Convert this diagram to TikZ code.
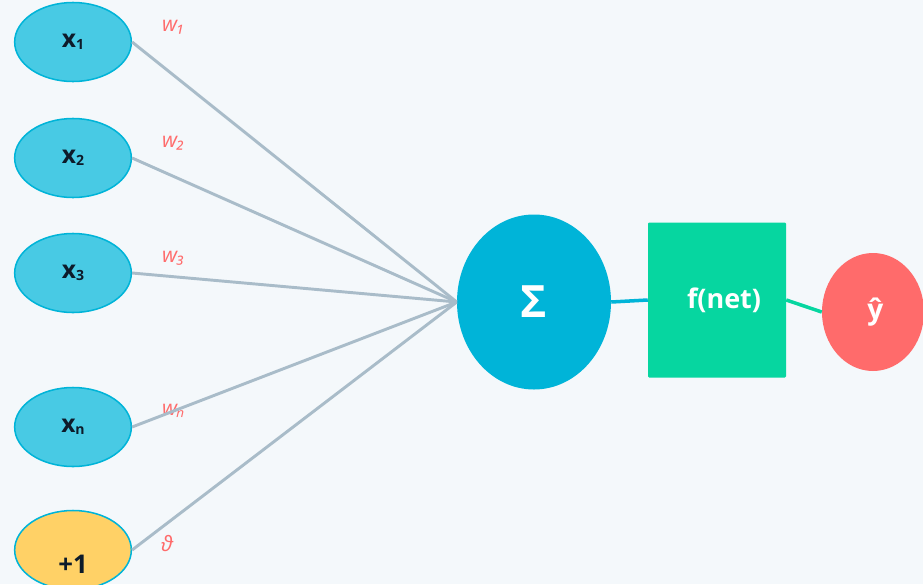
\documentclass[tikz,border=0pt]{standalone}
\usepackage{fontspec}
\setmainfont{Open Sans}
\newcommand{\lowsub}[1]{\raisebox{-1.5pt}{\fontsize{12}{12}\selectfont #1}}
\usetikzlibrary{shapes.geometric}
\definecolor{bgcol}{HTML}{F4F8FB}
\definecolor{inblue}{HTML}{48CAE4}
\definecolor{sumblue}{HTML}{00B4D8}
\definecolor{actgreen}{HTML}{06D6A0}
\definecolor{outred}{HTML}{FF6B6B}
\definecolor{biasyellow}{HTML}{FFD166}
\definecolor{wirecol}{HTML}{A9BCC9}
\definecolor{ink}{HTML}{0D1B2A}
\begin{document}
\begin{tikzpicture}[x=0.03cm,y=-0.03cm,
  inp/.style={ellipse,draw=sumblue,line width=1.3pt,fill=inblue,minimum width=3.5cm,minimum height=2.37cm,inner sep=0pt,text=ink,font=\bfseries\fontsize{21}{21}\selectfont},
  wlbl/.style={anchor=west,text=outred,inner sep=0pt,font=\itshape\fontsize{18}{18}\selectfont},
  wire/.style={draw=wirecol,line width=2.5pt},
]
\useasboundingbox[fill=bgcol] (0,0) rectangle (923,584);
\node[inp] (v1) at (73,42) {\raisebox{-3pt}{x\lowsub{1}}};
\node[inp] (v2) at (73,158) {\raisebox{-3pt}{x\lowsub{2}}};
\node[inp] (v3) at (73,273) {\raisebox{-3pt}{x\lowsub{3}}};
\node[inp] (vn) at (73,427) {\raisebox{-3pt}{x\lowsub{n}}};
\node[inp,fill=biasyellow] (vb) at (73,550) {};
\node[text=ink,inner sep=0pt,font=\bfseries\fontsize{22}{22}\selectfont] (one) at (73,564) {+1};
\node[ellipse,fill=sumblue,minimum width=4.62cm,minimum height=5.25cm,inner sep=0pt,text=white,font=\bfseries\fontsize{38}{38}\selectfont] (sum) at (534,302) {\raisebox{-4pt}{Σ}};
\node[fill=actgreen,rounded corners=1pt,minimum width=4.14cm,minimum height=4.65cm,inner sep=0pt,text=white,font=\bfseries\fontsize{23}{23}\selectfont] (act) at (717,300) {\hspace{12pt}\raisebox{-3pt}{f(net)}};
\node[ellipse,fill=outred,minimum width=3.06cm,minimum height=3.54cm,inner sep=0pt,text=white,font=\bfseries\fontsize{24}{24}\selectfont] (out) at (873,312) {\hspace{4pt}ŷ};
\node[wlbl] (w1) at (162,27) {w₁};
\node[wlbl] (w2) at (162,143) {w₂};
\node[wlbl] (w3) at (162,258) {w₃};
\node[wlbl] (wn) at (162,411) {wₙ};
\node[wlbl] (wb) at (161,544) {ϑ};
\draw [wire] (v1.east) -- (sum.west);
\draw [wire] (v2.east) -- (sum.west);
\draw [wire] (v3.east) -- (sum.west);
\draw [wire] (vn.east) -- (sum.west);
\draw [wire] (vb.east) -- (sum.west);
\draw [draw=sumblue,line width=3pt] (sum.east) -- (act.west);
\draw [draw=actgreen,line width=3pt] (act.east) -- (out.west);
\end{tikzpicture}
\end{document}
